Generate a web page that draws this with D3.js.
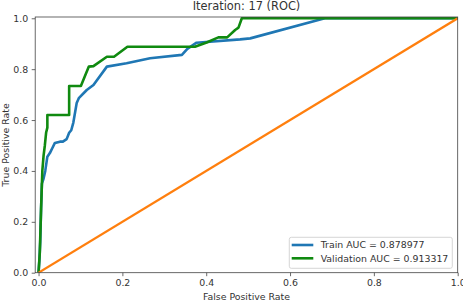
<!DOCTYPE html>
<html>
<head>
<meta charset="utf-8">
<script src="https://cdn.jsdelivr.net/npm/d3@7"></script>
<style>
html,body{margin:0;padding:0;background:#fff;}
svg{display:block;font-family:"DejaVu Sans",sans-serif;}
</style>
</head>
<body>
<svg id="chart" width="463" height="302"></svg>
<script>
const title = "Iteration: 17 (ROC)";
const xLabel = "False Positive Rate";
const yLabel = "True Positive Rate";
const tickValues = [0.0, 0.2, 0.4, 0.6, 0.8, 1.0];
const trainLabel = "Train AUC = 0.878977";
const valLabel = "Validation AUC = 0.913317";

const trainFpr = [0, 0.002, 0.004, 0.006, 0.008, 0.012, 0.016, 0.021, 0.027, 0.033, 0.039, 0.051, 0.058, 0.067, 0.073, 0.078, 0.083, 0.091, 0.096, 0.115, 0.131, 0.163, 0.21, 0.266, 0.342, 0.355, 0.377, 0.481, 0.505, 0.683, 1.0];
const trainTpr = [0, 0.05, 0.12, 0.25, 0.35, 0.37, 0.40, 0.456, 0.47, 0.49, 0.51, 0.515, 0.515, 0.525, 0.55, 0.56, 0.59, 0.667, 0.686, 0.718, 0.738, 0.81, 0.823, 0.843, 0.856, 0.88, 0.904, 0.917, 0.921, 1.0, 1.0];

const valFpr = [0, 0.003, 0.006, 0.009, 0.012, 0.015, 0.018, 0.021, 0.021, 0.073, 0.073, 0.101, 0.110, 0.120, 0.131, 0.163, 0.180, 0.212, 0.373, 0.401, 0.429, 0.450, 0.469, 0.477, 0.485, 1.0];
const valTpr = [0, 0.08, 0.25, 0.40, 0.46, 0.50, 0.55, 0.57, 0.62, 0.62, 0.734, 0.734, 0.77, 0.81, 0.812, 0.849, 0.849, 0.888, 0.888, 0.905, 0.925, 0.925, 0.954, 0.963, 1.0, 1.0];

const diagX = [0, 1];
const diagY = [0, 1];

const svg = d3.select("#chart");
const x = d3.scaleLinear().domain([-0.008, 1.0]).range([35.2, 457.7]);
const y = d3.scaleLinear().domain([0, 1.005]).range([272.7, 17]);

const axisColor = "#444";
const textColor = "#333";
const fs = 9.4;

// curves
const line = d3.line().x(d => x(d[0])).y(d => y(d[1]));
const clip = svg.append("clipPath").attr("id","clip").append("rect")
  .attr("x", x.range()[0]).attr("y", y.range()[1])
  .attr("width", x.range()[1]-x.range()[0]).attr("height", y.range()[0]-y.range()[1]);
const g = svg.append("g").attr("clip-path","url(#clip)");
g.append("path").datum(d3.zip(trainFpr, trainTpr)).attr("d", line)
  .attr("fill","none").attr("stroke","#1f77b4").attr("stroke-width",2.6).attr("stroke-linejoin","round");
g.append("path").datum(d3.zip(valFpr, valTpr)).attr("d", line)
  .attr("fill","none").attr("stroke","#108a10").attr("stroke-width",2.6).attr("stroke-linejoin","round");
g.append("path").datum(d3.zip(diagX, diagY)).attr("d", line)
  .attr("fill","none").attr("stroke","#ff7f0e").attr("stroke-width",2.2);

// axes
const fmt = d3.format(".1f");
const xAxis = svg.append("g").attr("transform",`translate(0,${y.range()[0]})`)
  .call(d3.axisBottom(x).tickValues(tickValues).tickFormat(fmt).tickSize(3.5).tickPadding(3.5));
const yAxis = svg.append("g").attr("transform",`translate(${x.range()[0]},0)`)
  .call(d3.axisLeft(y).tickValues(tickValues).tickFormat(fmt).tickSize(3.5).tickPadding(3.5));
[xAxis, yAxis].forEach(a => {
  a.select(".domain").remove();
  a.selectAll(".tick line").attr("stroke", axisColor).attr("stroke-width", 0.8);
  a.selectAll(".tick text").attr("fill", textColor).style("font-size", fs+"px").style("font-family","DejaVu Sans");
});

// spines
svg.append("rect").attr("x", x.range()[0]).attr("y", y.range()[1])
  .attr("width", x.range()[1]-x.range()[0]).attr("height", y.range()[0]-y.range()[1])
  .attr("fill","none").attr("stroke",axisColor).attr("stroke-width",0.8);

// labels
svg.append("text").attr("x", 246.5).attr("y", 9.5).attr("text-anchor","middle")
  .attr("fill", textColor).style("font-size","11.4px").text(title);
svg.append("text").attr("x", 246.5).attr("y", 299.5).attr("text-anchor","middle")
  .attr("fill", textColor).style("font-size", fs+"px").text(xLabel);
svg.append("text").attr("transform","translate(8.5,145) rotate(-90)").attr("text-anchor","middle")
  .attr("fill", textColor).style("font-size", fs+"px").text(yLabel);

// legend
const leg = svg.append("g");
leg.append("rect").attr("x",289.3).attr("y",237.3).attr("width",163).attr("height",31)
  .attr("rx",2).attr("fill","#fff").attr("fill-opacity",0.8).attr("stroke","#ccc").attr("stroke-width",0.8);
const items = [{label: trainLabel, color: "#1f77b4"}, {label: valLabel, color: "#108a10"}];
items.forEach((it, i) => {
  const cy = 245 + i*13.3;
  leg.append("line").attr("x1",291.7).attr("x2",313.3).attr("y1",cy).attr("y2",cy)
    .attr("stroke",it.color).attr("stroke-width",2.6);
  leg.append("text").attr("x",320.7).attr("y",cy+3.4).attr("fill",textColor)
    .style("font-size",fs+"px").text(it.label);
});
</script>
</body>
</html>
